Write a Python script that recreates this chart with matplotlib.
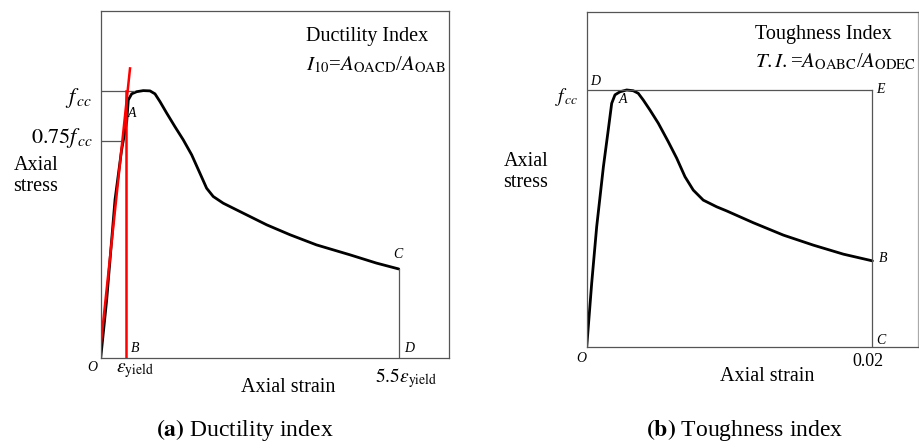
import matplotlib
matplotlib.use("Agg")
from matplotlib import pyplot as plt
import numpy as np

plt.rcParams['font.family'] = ['Liberation Serif', 'DejaVu Serif']
plt.rcParams['mathtext.fontset'] = 'stix'

# (a) ductility index: normalised strain (D = 1) and stress (fcc = 1)
strain_a = [0.0, 0.020, 0.048, 0.070, 0.0872, 0.0925, 0.1039, 0.1207,
            0.1428, 0.1653, 0.1820, 0.1988, 0.2213, 0.2491, 0.2769, 0.3051,
            0.3329, 0.3553, 0.3775, 0.4110, 0.4559, 0.557, 0.635, 0.724,
            0.836, 0.925, 1.0]
stress_a = [0.0, 0.218, 0.592, 0.778, 0.884, 0.965, 0.988, 0.996,
            1.0, 0.999, 0.988, 0.959, 0.916, 0.865, 0.816, 0.760,
            0.691, 0.635, 0.604, 0.579, 0.554, 0.498, 0.461, 0.423,
            0.386, 0.355, 0.333]
secant_x = [-0.0045, 0.0983]
secant_y = [0.0, 1.083]
eps_yield = 0.0849
level_75 = 0.813       # where the 0.75fcc line sits in the sketch
level_75_end = 0.070
fcc_end_a = 0.110

# (b) toughness index
strain_b = [0.0, 0.00035, 0.00070, 0.00117, 0.00151, 0.00175, 0.00198,
            0.00233, 0.00280, 0.00326, 0.00361, 0.00396, 0.00443, 0.00501,
            0.00571, 0.00630, 0.00688, 0.00746, 0.00816, 0.00910, 0.00980,
            0.01167, 0.01377, 0.01587, 0.01797, 0.02]
stress_b = [0.0, 0.249, 0.469, 0.702, 0.845, 0.948, 0.981,
            0.993, 1.0, 0.997, 0.987, 0.961, 0.922, 0.871,
            0.799, 0.735, 0.663, 0.611, 0.572, 0.546, 0.530,
            0.484, 0.436, 0.397, 0.362, 0.336]
strain_end_b = 0.02

fig = plt.figure(figsize=(9.19, 4.44), dpi=100)
frame = '#555555'

# ---------------- panel (a)
ax = fig.add_axes([0.1096, 0.1937, 0.3790, 0.7822])
ax.plot(strain_a, stress_a, color='black', lw=2.0, solid_capstyle='round',
        solid_joinstyle='round')
ax.plot([0, fcc_end_a], [1.0, 1.0], color=frame, lw=0.9)
ax.plot([0, level_75_end], [level_75, level_75], color=frame, lw=0.9)
ax.plot([strain_a[-1], strain_a[-1]], [0, stress_a[-1]], color=frame, lw=0.9)
ax.plot(secant_x, secant_y, color='red', lw=1.8)
ax.plot([eps_yield, eps_yield], [0, 1.0], color='red', lw=1.8)
ax.set_xlim(0, 1.1687)
ax.set_ylim(0, 1.2989)

pt = dict(fontsize=10, style='italic', ha='center', va='center')
ax.text(0.106, 0.913, 'A', **pt)
ax.text(0.115, 0.037, 'B', **pt)
ax.text(0.998, 0.386, 'C', **pt)
ax.text(1.035, 0.034, 'D', **pt)
ax.text(-0.027, -0.037, 'O', clip_on=False, **pt)
ax.text(0.115, -0.046, r'$\varepsilon_{\rm yield}$', fontsize=14, ha='center', va='center')
ax.text(1.026, -0.075, r'$5.5\varepsilon_{\rm yield}$', fontsize=14, ha='center', va='center')
ax.text(0.629, -0.112, 'Axial strain', fontsize=14.5, ha='center', va='center')
ax.text(-0.030, 0.971, r'$f_{\,cc}$', fontsize=16, ha='right', va='center')
ax.text(-0.025, 0.822, r'$0.75f_{\,cc}$', fontsize=16, ha='right', va='center')
ax.text(-0.293, 0.679, 'Axial\nstress', fontsize=14.5, ha='left', va='center',
        linespacing=1.15)
ax.text(0.690, 1.202, 'Ductility Index', fontsize=14.5, ha='left', va='center')
ax.text(0.690, 1.096, r'$I_{10}$=$A_{\rm OACD}$/$A_{\rm OAB}$', fontsize=15,
        ha='left', va='center')

# ---------------- panel (b), box runs to the right edge of the image
bx = fig.add_axes([0.6384, 0.2177, 0.3605, 0.7553])
bx.plot(strain_b, stress_b, color='black', lw=2.0, solid_capstyle='round',
        solid_joinstyle='round')
bx.plot([0, strain_end_b], [1.0, 1.0], color=frame, lw=0.9)
bx.plot([strain_end_b, strain_end_b], [0, 1.0], color=frame, lw=0.9)
bx.set_xlim(0, 0.02319)
bx.set_ylim(0, 1.303)

bx.text(0.00058, 1.032, 'D', **pt)
bx.text(0.00257, 0.962, 'A', **pt)
bx.text(0.02054, 1.0, 'E', **pt)
bx.text(0.02077, 0.346, 'B', **pt)
bx.text(0.0206, 0.028, 'C', **pt)
bx.text(-0.00035, -0.043, 'O', **pt)
bx.text(-0.00058, 0.974, r'$f_{\,cc}$', fontsize=14, ha='right', va='center')
bx.text(0.01972, -0.056, '0.02', fontsize=13, ha='center', va='center')
bx.text(0.0126, -0.114, 'Axial strain', fontsize=14.5, ha='center', va='center')
bx.text(-0.00583, 0.683, 'Axial\nstress', fontsize=14.5, ha='left', va='center',
        linespacing=1.15)
bx.text(0.01178, 1.214, 'Toughness Index', fontsize=14.5, ha='left', va='center')
bx.text(0.01178, 1.110, r'$\mathit{T.I.}$=$A_{\rm OABC}$/$A_{\rm ODEC}$',
        fontsize=15, ha='left', va='center')

for a in (ax, bx):
    a.set_xticks([])
    a.set_yticks([])
    for s in a.spines.values():
        s.set_color(frame)
        s.set_linewidth(0.9)
bx.spines['right'].set_color('#aaaaaa')

fig.text(0.2666, 0.0315, r'$\bf{(a)}$ Ductility index', fontsize=17,
         ha='center', va='center')
fig.text(0.8107, 0.0315, r'$\bf{(b)}$ Toughness index', fontsize=17,
         ha='center', va='center')

fig.savefig('out.png', dpi=100)
